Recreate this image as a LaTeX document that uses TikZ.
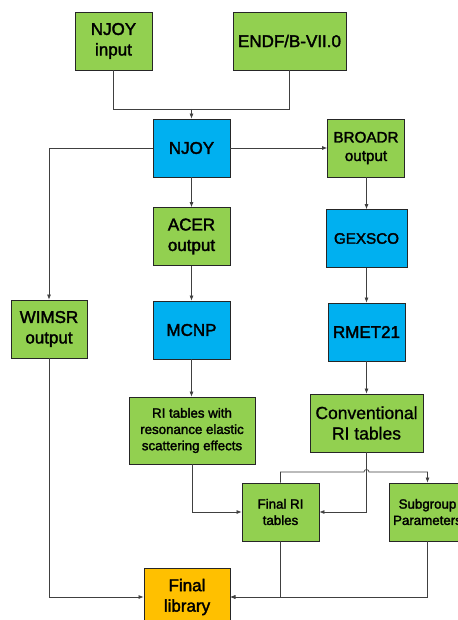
\documentclass[tikz,border=0pt]{standalone}
\usepackage{fontspec}
\setmainfont{Liberation Sans}
\newfontfamily\heavy[FakeBold=2]{Liberation Sans}
\newfontfamily\medium[FakeBold=1]{Liberation Sans}
\usetikzlibrary{arrows.meta}
\definecolor{boxgreen}{HTML}{92D050}
\definecolor{boxblue}{HTML}{00B0F0}
\definecolor{boxorange}{HTML}{FFC000}
\definecolor{linegray}{HTML}{404040}
\begin{document}
\begin{tikzpicture}[x=1pt,y=-1pt,
  box/.style={draw=black!85, line width=0.8pt, inner sep=0pt, align=center,
    minimum width=77pt, minimum height=58pt,
    font=\heavy\fontsize{17}{20.5}\selectfont},
  gbox/.style={box, fill=boxgreen},
  bbox/.style={box, fill=boxblue},
  obox/.style={box, fill=boxorange},
  smalltext/.style={font=\heavy\fontsize{13.3}{16.3}\selectfont},
  midtext/.style={font=\heavy\fontsize{15.2}{18.5}\selectfont},
  conn/.style={draw=linegray, line width=0.7pt},
  arr/.style={conn, -{Latex[length=5pt,width=4pt]}}]
\useasboundingbox (0,0) rectangle (457,620);
\fill[white] (0,0) rectangle (457,620);
% nodes
\node[gbox] (njin) at (113.5,41) {NJOY\\input};
\node[gbox, minimum width=113pt] (endf) at (289.5,41) {ENDF/B-VII.0};
\node[bbox] (njoy) at (191.5,148) {NJOY};
\node[gbox, midtext] (broadr) at (366,148) {BROADR\\output};
\node[gbox] (acer) at (191.5,236.5) {ACER\\output};
\node[bbox, midtext, minimum width=81pt] (gexsco) at (366.5,238.5) {GEXSCO};
\node[gbox, minimum width=76pt] (wimsr) at (49,329) {WIMSR\\output};
\node[bbox] (mcnp) at (191.5,330) {MCNP};
\node[bbox] (rmet) at (366.5,332) {RMET21};
\node[gbox, smalltext, minimum width=126pt, minimum height=67pt] (ri) at (192,430.5) {RI tables with\\resonance elastic\\scattering effects};
\node[gbox, font=\medium\fontsize{17.5}{20.5}\selectfont, minimum width=113pt] (conv) at (366.5,423) {Conventional\\RI tables};
\node[gbox, smalltext] (final) at (280.5,512) {Final RI\\tables};
\node[gbox, smalltext] (sub) at (427.5,512) {Subgroup\\Parameters};
\node[obox, minimum width=86pt] (lib) at (187,597) {Final\\library};
% helper coordinates
\coordinate (j1) at (191.5,109);
\coordinate (hop) at (366.5,472);
% connectors
\draw[conn] (njin.south) |- (j1);
\draw[conn] (endf.south) |- (j1);
\draw[arr] (j1) -- (njoy.north);
\draw[arr] (njoy.east) -- (broadr.west);
\draw[arr] (njoy.west) -| (wimsr.north);
\draw[arr] (njoy.south) -- (acer.north);
\draw[arr] (acer.south) -- (mcnp.north);
\draw[arr] (mcnp.south) -- (mcnp.south |- ri.north);
\draw[arr] (broadr.south -| gexsco.north) -- (gexsco.north);
\draw[arr] (gexsco.south) -- (rmet.north);
\draw[arr] (rmet.south) -- (conv.north);
\draw[arr] (ri.south) |- (final.west);
\draw[arr] (conv.south) |- (final.east);
\draw[arr] (final.north) |- ([xshift=-2.5pt]hop) arc[start angle=180, end angle=0, radius=2.5pt] -| (sub.north);
\draw[arr] (final.south) |- (lib.east);
\draw[arr] (sub.south) |- (lib.east);
\draw[arr] (wimsr.south) |- (lib.west);
\end{tikzpicture}
\end{document}
